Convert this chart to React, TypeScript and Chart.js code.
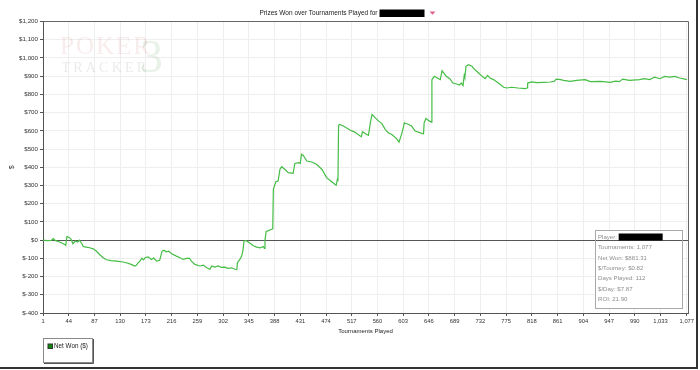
import { useEffect, useRef } from 'react';
import { Chart, registerables } from 'chart.js';

Chart.register(...registerables);

// ---- data ----
const tournaments = [
  1, 8, 15, 18, 22, 29, 35, 39, 41, 45, 48, 51, 55, 59, 62, 66, 68, 73, 79, 85,
  90, 96, 101, 107, 115, 124, 130, 135, 140, 146, 150, 154, 157, 160, 163, 166, 169, 172, 177, 182,
  186, 191, 196, 200, 203, 207, 211, 216, 224, 230, 235, 241, 246, 249, 255, 263, 269, 274, 280, 283,
  288, 294, 299, 305, 310, 316, 322, 325, 326, 330, 333, 335, 337, 340, 346, 352, 358, 364, 369, 371,
  372, 374, 378, 383, 385, 386, 390, 394, 397, 400, 405, 411, 419, 422, 428, 431, 433, 436, 442, 450,
  458, 467, 475, 484, 491, 493, 494, 495, 497, 503, 514, 522, 531, 533, 535, 542, 545, 548, 551, 556,
  562, 567, 573, 578, 584, 592, 596, 601, 605, 612, 617, 623, 634, 637, 638, 641, 647, 650, 651, 655,
  660, 665, 668, 671, 675, 681, 686, 692, 697, 700, 703, 705, 706, 708, 712, 718, 723, 729, 735, 740,
  744, 748, 754, 762, 771, 776, 784, 795, 807, 810, 811, 818, 826, 838, 849, 855, 859, 866, 871, 882,
  893, 907, 916, 933, 949, 958, 964, 970, 981, 998, 1006, 1015, 1023, 1032, 1040, 1048, 1057, 1065, 1074, 1077,
];
const netWon = [
  0, -3, -2, 8, -3, -10, -20, -28, 20, 15, 5, -20, -5, -10, 0, -20, -35, -38, -42, -48,
  -60, -80, -95, -108, -112, -115, -118, -120, -124, -130, -136, -142, -138, -125, -115, -100, -108, -95, -92, -106,
  -98, -115, -111, -60, -55, -64, -60, -75, -88, -97, -106, -100, -100, -115, -133, -142, -137, -150, -160, -142,
  -148, -142, -150, -148, -155, -152, -160, -162, -124, -106, -88, -60, -5, -2, -15, -30, -38, -42, -35, -45,
  0, 48, 52, 60, 62, 279, 319, 325, 389, 403, 389, 370, 367, 421, 425, 421, 471, 465, 434, 429,
  416, 389, 343, 319, 301, 334, 330, 630, 635, 626, 604, 593, 571, 568, 595, 580, 575, 644, 690, 672,
  653, 641, 608, 589, 580, 557, 538, 589, 644, 635, 626, 599, 586, 584, 644, 668, 653, 648, 881, 899,
  890, 881, 930, 917, 899, 886, 862, 857, 851, 862, 848, 904, 893, 954, 963, 954, 935, 917, 899, 886,
  904, 890, 881, 862, 839, 835, 839, 835, 832, 835, 862, 868, 864, 866, 868, 871, 884, 881, 877, 871,
  877, 881, 870, 871, 866, 873, 870, 884, 877, 881, 886, 881, 895, 886, 899, 895, 899, 890, 884, 881,
];
const xTickValues = [
  1, 44, 87, 130, 173, 216, 259, 302, 345, 388, 431, 474, 517, 560, 603, 646, 689, 732,
  775, 818, 861, 904, 947, 990, 1033, 1077,
];
const yMinValue = -400;
const yMaxValue = 1200;
const yStepValue = 100;

const titleText = 'Prizes Won over Tournaments Played for';
const xTitle = 'Tournaments Played';
const yTitle = '$';
const seriesLabel = 'Net Won ($)';
const statsPlayerLabel = 'Player:';
const statsLines = [
  'Tournaments: 1,077',
  'Net Won: $881.31',
  '$/Tourney: $0.82',
  'Days Played: 112',
  '$/Day: $7.87',
  'ROI: 21.90',
];
const watermarkTop = 'POKER';
const watermarkBottom = 'TRACKER';
const watermarkDigit = '3';

const FONT = '"Liberation Sans", Arial, sans-serif';

const alignPx = (v: number) => Math.round(v - 0.5) + 0.5;

const decorPlugin = {
  id: 'decor',
  beforeDatasetsDraw(chart: any) {
    const { ctx, chartArea: a } = chart;
    ctx.save();
    ctx.textAlign = 'left';
    ctx.textBaseline = 'alphabetic';
    ctx.font = '25px "Liberation Serif", serif';
    ctx.letterSpacing = '2px';
    ctx.fillStyle = 'rgba(200, 110, 110, 0.13)';
    ctx.fillText(watermarkTop, a.left + 17, a.top + 32);
    ctx.font = '14px "Liberation Serif", serif';
    ctx.letterSpacing = '3.2px';
    ctx.fillStyle = 'rgba(110, 130, 110, 0.15)';
    ctx.fillText(watermarkBottom, a.left + 18.5, a.top + 50);
    ctx.letterSpacing = '0px';
    ctx.font = '46px "Liberation Serif", serif';
    ctx.fillStyle = 'rgba(100, 170, 100, 0.15)';
    ctx.fillText(watermarkDigit, a.left + 97, a.top + 50);
    ctx.restore();
  },
  afterDraw(chart: any) {
    const { ctx, chartArea: a } = chart;
    ctx.save();

    // plot frame (top and right)
    ctx.strokeStyle = '#666';
    ctx.lineWidth = 1;
    ctx.beginPath();
    ctx.moveTo(alignPx(a.left), alignPx(a.top));
    ctx.lineTo(alignPx(a.right), alignPx(a.top));
    ctx.lineTo(alignPx(a.right), alignPx(a.bottom));
    ctx.stroke();

    // title
    ctx.font = `6.5px ${FONT}`;
    ctx.fillStyle = '#222';
    ctx.textBaseline = 'middle';
    ctx.textAlign = 'left';
    const tw = ctx.measureText(titleText).width;
    const groupW = tw + 2 + 45 + 5 + 6;
    const tx = 347.5 - groupW / 2;
    ctx.fillText(titleText, tx, 13);
    const bx0 = tx + tw + 2;
    ctx.fillStyle = '#000';
    ctx.fillRect(bx0, 9.5, 45, 7.5);
    const ax = bx0 + 45 + 5;
    ctx.fillStyle = '#e0608a';
    ctx.beginPath();
    ctx.moveTo(ax, 11.5);
    ctx.lineTo(ax + 6, 11.5);
    ctx.lineTo(ax + 3, 14.8);
    ctx.closePath();
    ctx.fill();

    // stats box
    const bx = a.right - 93;
    const by = a.bottom - 83;
    const bw = 87;
    const bh = 78;
    ctx.fillStyle = '#fff';
    ctx.fillRect(bx, by, bw, bh);
    const y0 = chart.scales.y.getPixelForValue(0);
    ctx.strokeStyle = '#555';
    ctx.beginPath();
    ctx.moveTo(bx, alignPx(y0));
    ctx.lineTo(bx + bw, alignPx(y0));
    ctx.stroke();
    ctx.strokeStyle = '#a8a8a8';
    ctx.strokeRect(bx + 0.5, by + 0.5, bw, bh);
    ctx.font = `6.1px ${FONT}`;
    ctx.fillStyle = '#8e8e8e';
    ctx.fillText(statsPlayerLabel, bx + 3, by + 7);
    const pw = ctx.measureText(statsPlayerLabel + ' ').width;
    ctx.fillStyle = '#000';
    ctx.fillRect(bx + 3 + pw, by + 3.5, 44, 7);
    ctx.fillStyle = '#8e8e8e';
    statsLines.forEach((s, i) => {
      ctx.fillText(s, bx + 3, by + 7 + 10.45 * (i + 1));
    });

    // legend
    const lx = a.left;
    const ly = 338;
    ctx.strokeStyle = '#8a8a8a';
    ctx.strokeRect(lx + 0.5, ly + 0.5, 49, 24);
    ctx.strokeStyle = '#555';
    ctx.beginPath();
    ctx.moveTo(lx + 50.5, ly + 1);
    ctx.lineTo(lx + 50.5, ly + 25.5);
    ctx.lineTo(lx + 1, ly + 25.5);
    ctx.stroke();
    ctx.fillStyle = '#0a8a0a';
    ctx.fillRect(lx + 5, ly + 6, 4.5, 4.5);
    ctx.strokeStyle = '#333';
    ctx.strokeRect(lx + 5, ly + 6, 4.5, 4.5);
    ctx.font = `6.3px ${FONT}`;
    ctx.fillStyle = '#222';
    ctx.fillText(seriesLabel, lx + 11, ly + 8.5);

    // outer frame
    ctx.fillStyle = '#333';
    ctx.fillRect(696, 0, 2, 369);
    ctx.fillRect(0, 367, 698, 2);

    ctx.restore();
  },
};

export default function App() {
  const ref = useRef<HTMLCanvasElement | null>(null);

  useEffect(() => {
    if (!ref.current) return;
    const points = tournaments.map((t, i) => ({ x: t, y: netWon[i] }));
    const chart = new Chart(ref.current, {
      type: 'line',
      data: {
        datasets: [
          {
            label: seriesLabel,
            data: points,
            borderColor: '#45bd45',
            backgroundColor: '#0a8a0a',
            borderWidth: 1.2,
            pointRadius: 0,
            tension: 0,
            fill: false,
          },
        ],
      },
      options: {
        animation: false,
        responsive: false,
        devicePixelRatio: 1,
        events: [],
        layout: { padding: { top: 21.5, right: 12, left: 0, bottom: 0 } },
        plugins: {
          legend: { display: false },
          tooltip: { enabled: false },
          title: { display: false },
        },
        scales: {
          x: {
            type: 'linear',
            min: 1,
            max: 1079,
            afterBuildTicks: (axis: any) => {
              axis.ticks = xTickValues.map((v) => ({ value: v }));
            },
            afterFit: (axis: any) => {
              axis.height = 57;
            },
            ticks: {
              autoSkip: false,
              maxRotation: 0,
              minRotation: 0,
              padding: 2,
              color: '#333',
              font: { family: FONT, size: 5.8 },
              callback: (v: any) => Number(v).toLocaleString('en-US'),
            },
            grid: {
              color: '#eeeeee',
              lineWidth: 1,
              tickLength: 3,
              tickColor: '#555',
            },
            border: { color: '#555', width: 1 },
            title: {
              display: true,
              text: xTitle,
              color: '#222',
              font: { family: FONT, size: 6 },
              padding: { top: 2, bottom: 35 },
            },
          },
          y: {
            type: 'linear',
            min: yMinValue,
            max: yMaxValue,
            afterFit: (axis: any) => {
              axis.width = 43;
            },
            ticks: {
              stepSize: yStepValue,
              padding: 2,
              color: '#333',
              font: { family: FONT, size: 6.2 },
              callback: (v: any) => {
                const n = Number(v);
                return n < 0 ? '$-' + Math.abs(n).toLocaleString('en-US') : '$' + n.toLocaleString('en-US');
              },
            },
            grid: {
              color: (c: any) => (c.tick && c.tick.value === 0 ? '#555' : '#eeeeee'),
              lineWidth: 1,
              tickLength: 3,
              tickColor: '#555',
            },
            border: { color: '#555', width: 1 },
            title: {
              display: true,
              text: yTitle,
              color: '#222',
              font: { family: FONT, size: 6.5 },
              padding: { top: 8, bottom: 0 },
            },
          },
        },
      },
      plugins: [decorPlugin],
    } as any);
    return () => chart.destroy();
  }, []);

  return (
    <div style={{ position: 'absolute', left: 0, top: 0, width: 700, height: 370, background: '#fff' }}>
      <canvas ref={ref} width={700} height={370} style={{ width: 700, height: 370, display: 'block' }} />
    </div>
  );
}
